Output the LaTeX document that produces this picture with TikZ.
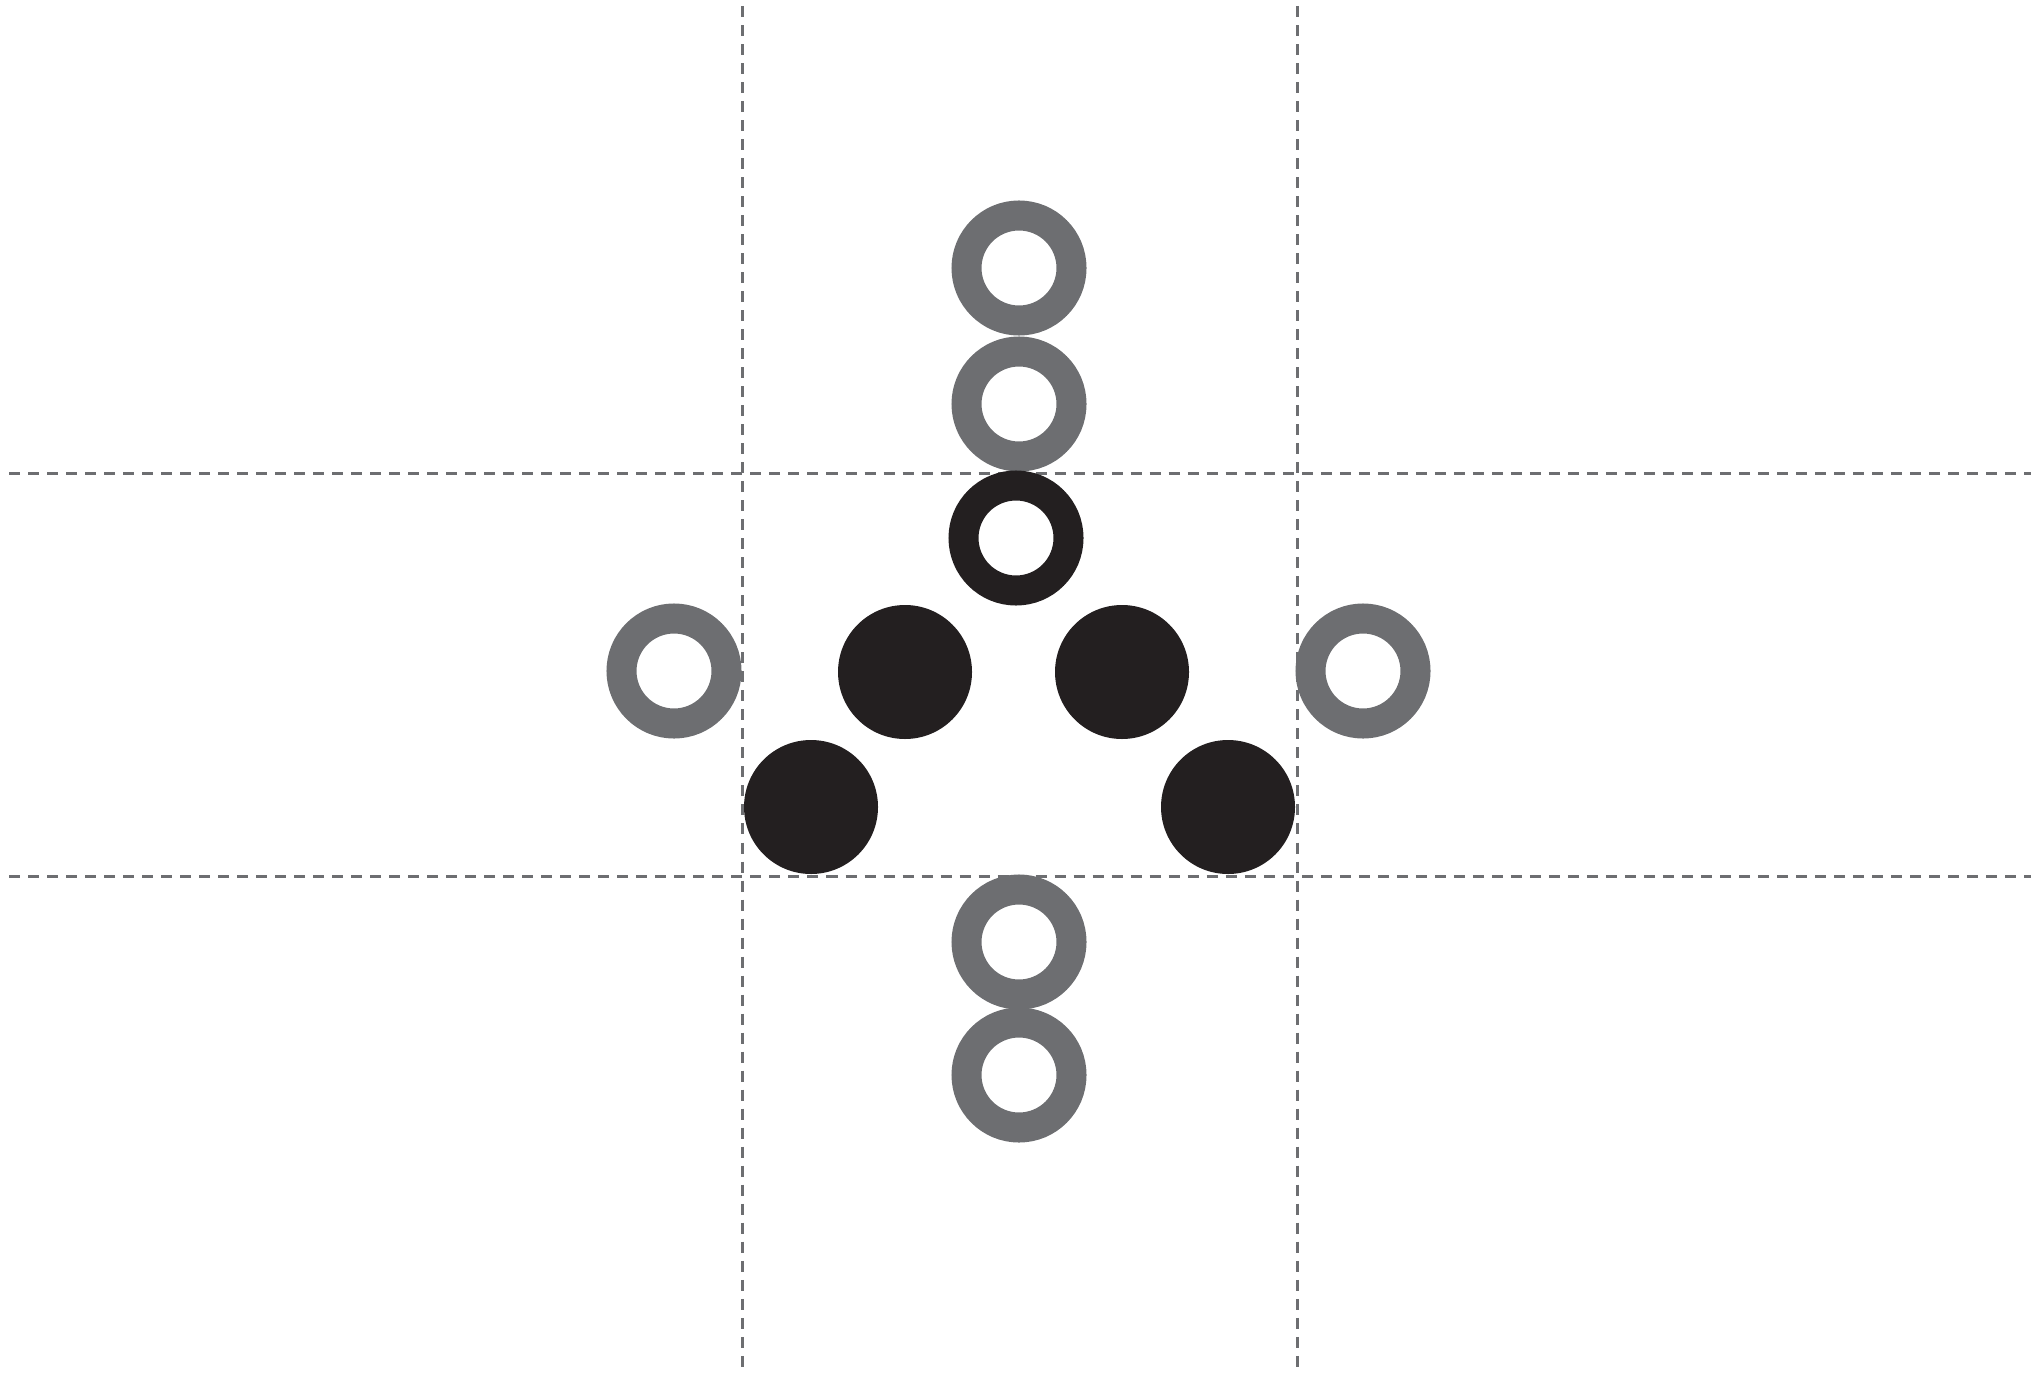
\documentclass[tikz,border=0pt]{standalone}
\usepackage{tikz}
\usepackage{xcolor}
\definecolor{ringgray}{HTML}{6D6E71}
\definecolor{ringblack}{HTML}{231F20}
\begin{document}
\begin{tikzpicture}[x=0.01cm,y=-0.01cm,
  guide/.style={ringgray,line width=0.03cm,dash pattern=on 0.11cm off 0.08cm},
  ring/.style={line width=0.30cm}]
\useasboundingbox (0,0) rectangle (2031,1373);
\draw[guide] (742,6) -- (742,1373);
\draw[guide] (1297,6) -- (1297,1373);
\draw[guide] (9,473) -- (2031,473);
\draw[guide] (9,876) -- (2031,876);
\draw[ring,ringgray] (1019,268) circle (52.5);
\draw[ring,ringgray] (1019,404) circle (52.5);
\draw[ring,ringblack] (1016,538) circle (52.5);
\draw[ring,ringgray] (674,671) circle (52.5);
\draw[ring,ringgray] (1363,671) circle (52.5);
\draw[ring,ringgray] (1019,942) circle (52.5);
\draw[ring,ringgray] (1019,1075) circle (52.5);
\fill[ringblack] (905,672) circle (67);
\fill[ringblack] (1122,672) circle (67);
\fill[ringblack] (811,807) circle (67);
\fill[ringblack] (1228,807) circle (67);
\end{tikzpicture}
\end{document}
